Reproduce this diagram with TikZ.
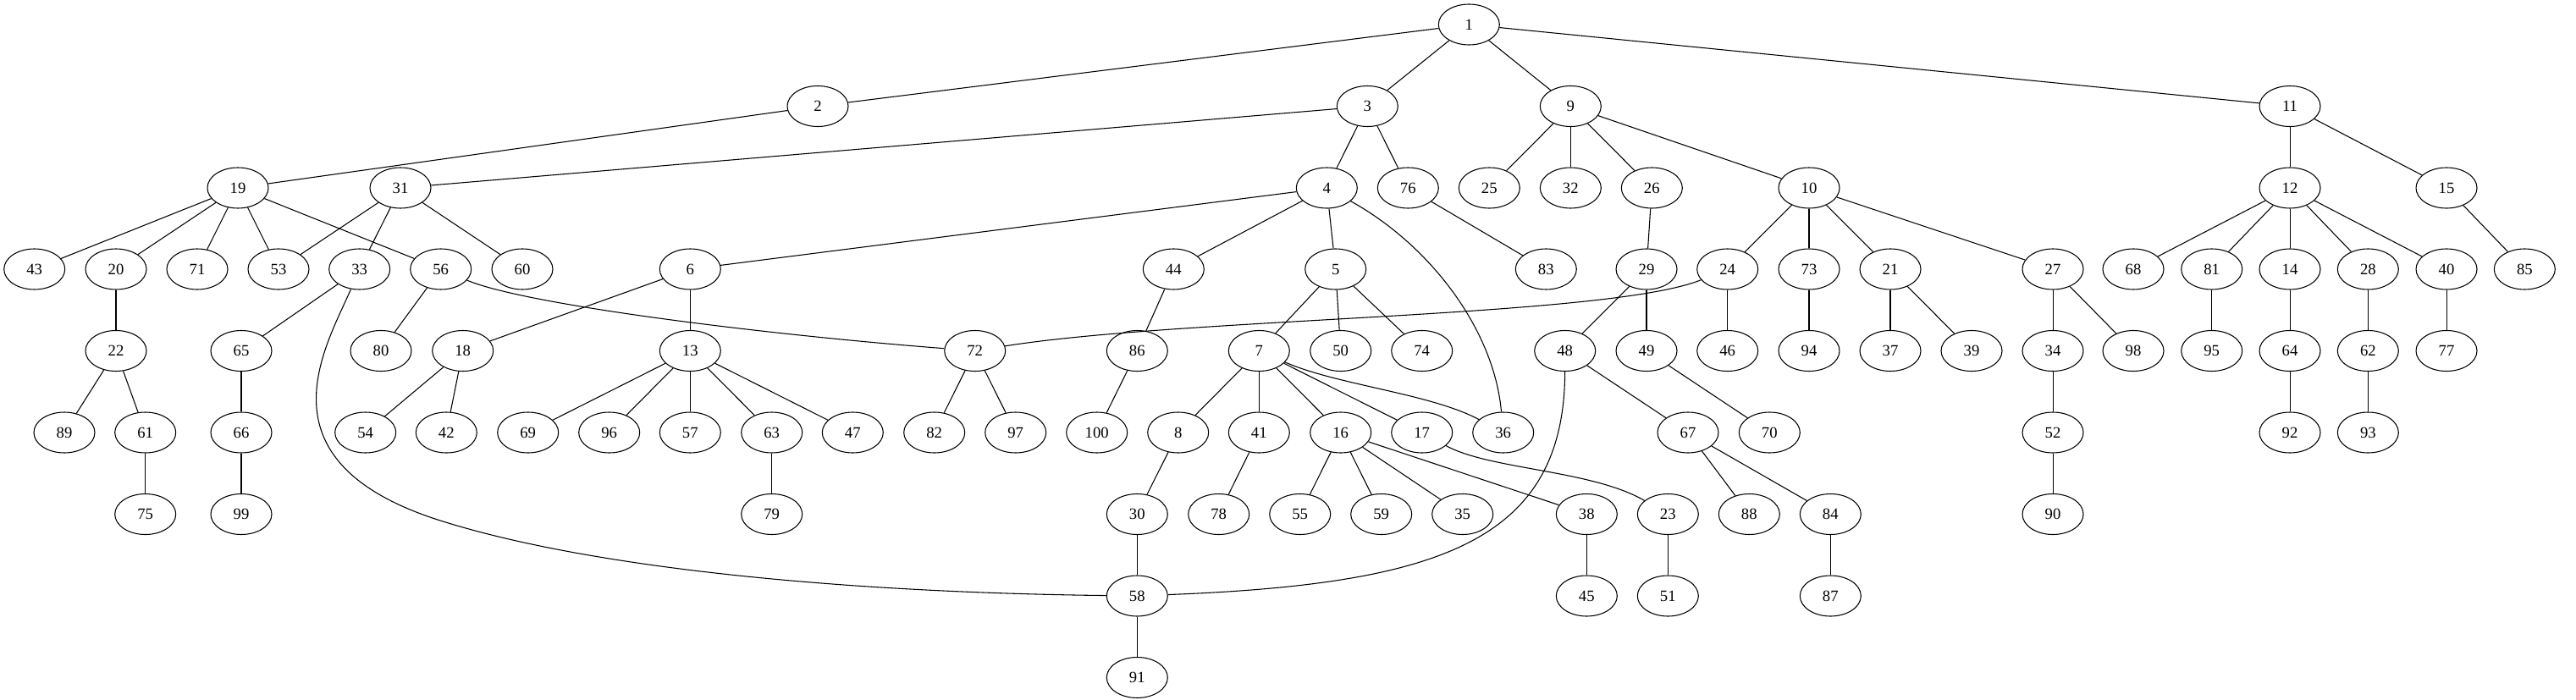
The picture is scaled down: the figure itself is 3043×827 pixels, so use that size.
\documentclass[tikz,border=0pt]{standalone}
\usepackage{fontspec}
\setmainfont{Liberation Serif}
\usetikzlibrary{shapes.geometric}
\tikzset{
   every path/.style={>=stealth},
   vtx/.style={ellipse,draw,line width=0.8pt,minimum width=54pt,minimum height=36pt,inner sep=0pt,font=\fontsize{14}{16}\selectfont},
   link/.style={line width=0.8pt},
}

\begin{document}
\begin{tikzpicture}[x=0.75pt,y=0.75pt]
        \useasboundingbox (0,0) rectangle (3043,-827);

        \node[vtx] (v1) at (1735.3, -29) {1};

        \node[vtx] (v2)  at ( 966.0, -125.5) {2};
        \node[vtx] (v3)  at (1615.3, -125.5) {3};
        \node[vtx] (v9)  at (1855.3, -125.5) {9};
        \node[vtx] (v11) at (2705.0, -125.5) {11};

        \node[vtx] (v19) at ( 281.0, -222) {19};
        \node[vtx] (v31) at ( 473.0, -222) {31};
        \node[vtx] (v4)  at (1567.3, -222) {4};
        \node[vtx] (v76) at (1663.3, -222) {76};
        \node[vtx] (v25) at (1759.3, -222) {25};
        \node[vtx] (v32) at (1855.3, -222) {32};
        \node[vtx] (v26) at (1951.3, -222) {26};
        \node[vtx] (v10) at (2137.0, -222) {10};
        \node[vtx] (v12) at (2705.0, -222) {12};
        \node[vtx] (v15) at (2890.0, -222) {15};

        \node[vtx] (v43) at (  40.7, -318) {43};
        \node[vtx] (v20) at ( 137.0, -318) {20};
        \node[vtx] (v71) at ( 233.0, -318) {71};
        \node[vtx] (v53) at ( 329.0, -318) {53};
        \node[vtx] (v33) at ( 424.7, -318) {33};
        \node[vtx] (v56) at ( 520.7, -318) {56};
        \node[vtx] (v60) at ( 617.0, -318) {60};
        \node[vtx] (v6)  at ( 815.3, -318) {6};
        \node[vtx] (v44) at (1386.3, -318) {44};
        \node[vtx] (v5)  at (1577.7, -318) {5};
        \node[vtx] (v83) at (1826.3, -318) {83};
        \node[vtx] (v29) at (1945.0, -318) {29};
        \node[vtx] (v24) at (2040.7, -318) {24};
        \node[vtx] (v73) at (2137.0, -318) {73};
        \node[vtx] (v21) at (2233.0, -318) {21};
        \node[vtx] (v27) at (2425.0, -318) {27};
        \node[vtx] (v68) at (2520.0, -318) {68};
        \node[vtx] (v81) at (2612.7, -318) {81};
        \node[vtx] (v14) at (2705.0, -318) {14};
        \node[vtx] (v28) at (2797.3, -318) {28};
        \node[vtx] (v40) at (2890.0, -318) {40};
        \node[vtx] (v85) at (2982.3, -318) {85};

        \node[vtx] (v22) at ( 137.0, -414.5) {22};
        \node[vtx] (v65) at ( 285.0, -414.5) {65};
        \node[vtx] (v80) at ( 450.0, -414.5) {80};
        \node[vtx] (v18) at ( 546.7, -414.5) {18};
        \node[vtx] (v13) at ( 815.3, -414.5) {13};
        \node[vtx] (v72) at (1151.7, -414.5) {72};
        \node[vtx] (v86) at (1343.3, -414.5) {86};
        \node[vtx] (v7)  at (1487.3, -414.5) {7};
        \node[vtx] (v50) at (1583.7, -414.5) {50};
        \node[vtx] (v74) at (1679.7, -414.5) {74};
        \node[vtx] (v48) at (1848.7, -414.5) {48};
        \node[vtx] (v49) at (1945.0, -414.5) {49};
        \node[vtx] (v46) at (2040.7, -414.5) {46};
        \node[vtx] (v94) at (2137.0, -414.5) {94};
        \node[vtx] (v37) at (2233.0, -414.5) {37};
        \node[vtx] (v39) at (2329.0, -414.5) {39};
        \node[vtx] (v34) at (2425.0, -414.5) {34};
        \node[vtx] (v98) at (2520.0, -414.5) {98};
        \node[vtx] (v95) at (2612.7, -414.5) {95};
        \node[vtx] (v64) at (2705.0, -414.5) {64};
        \node[vtx] (v62) at (2797.3, -414.5) {62};
        \node[vtx] (v77) at (2890.0, -414.5) {77};

        \node[vtx] (v89)  at (  76.0, -511) {89};
        \node[vtx] (v61)  at ( 171.7, -511) {61};
        \node[vtx] (v66)  at ( 285.0, -511) {66};
        \node[vtx] (v54)  at ( 431.7, -511) {54};
        \node[vtx] (v42)  at ( 527.3, -511) {42};
        \node[vtx] (v69)  at ( 623.7, -511) {69};
        \node[vtx] (v96)  at ( 719.7, -511) {96};
        \node[vtx] (v57)  at ( 815.3, -511) {57};
        \node[vtx] (v63)  at ( 911.7, -511) {63};
        \node[vtx] (v47)  at (1007.3, -511) {47};
        \node[vtx] (v82)  at (1103.7, -511) {82};
        \node[vtx] (v97)  at (1199.7, -511) {97};
        \node[vtx] (v100) at (1295.7, -511) {100};
        \node[vtx] (v8)   at (1391.7, -511) {8};
        \node[vtx] (v41)  at (1487.3, -511) {41};
        \node[vtx] (v16)  at (1583.7, -511) {16};
        \node[vtx] (v17)  at (1679.7, -511) {17};
        \node[vtx] (v36)  at (1775.7, -511) {36};
        \node[vtx] (v67)  at (1994.0, -511) {67};
        \node[vtx] (v70)  at (2090.3, -511) {70};
        \node[vtx] (v52)  at (2425.0, -511) {52};
        \node[vtx] (v92)  at (2705.0, -511) {92};
        \node[vtx] (v93)  at (2797.3, -511) {93};

        \node[vtx] (v75) at ( 171.7, -607.5) {75};
        \node[vtx] (v99) at ( 285.0, -607.5) {99};
        \node[vtx] (v79) at ( 911.7, -607.5) {79};
        \node[vtx] (v30) at (1343.3, -607.5) {30};
        \node[vtx] (v78) at (1439.7, -607.5) {78};
        \node[vtx] (v55) at (1535.7, -607.5) {55};
        \node[vtx] (v59) at (1631.7, -607.5) {59};
        \node[vtx] (v35) at (1727.7, -607.5) {35};
        \node[vtx] (v38) at (1874.3, -607.5) {38};
        \node[vtx] (v23) at (1970.3, -607.5) {23};
        \node[vtx] (v88) at (2066.3, -607.5) {88};
        \node[vtx] (v84) at (2162.3, -607.5) {84};
        \node[vtx] (v90) at (2425.0, -607.5) {90};

        \node[vtx] (v58) at (1343.3, -704) {58};
        \node[vtx] (v45) at (1874.3, -704) {45};
        \node[vtx] (v51) at (1970.3, -704) {51};
        \node[vtx] (v87) at (2162.3, -704) {87};

        \node[vtx] (v91) at (1343.3, -800.5) {91};

        % straight edges, grouped by upper end
        \draw[link] (v1) edge (v2) edge (v3) edge (v9) edge (v11);
        \draw[link] (v2) edge (v19);
        \draw[link] (v3) edge (v31) edge (v4) edge (v76);
        \draw[link] (v9) edge (v25) edge (v32) edge (v26) edge (v10);
        \draw[link] (v11) edge (v12) edge (v15);
        \draw[link] (v19) edge (v43) edge (v20) edge (v71) edge (v53) edge (v56);
        \draw[link] (v31) edge (v53) edge (v33) edge (v60);
        \draw[link] (v4) edge (v6) edge (v44) edge (v5);
        \draw[link] (v76) edge (v83);
        \draw[link] (v26) edge (v29);
        \draw[link] (v10) edge (v24) edge (v73) edge (v21) edge (v27);
        \draw[link] (v12) edge (v68) edge (v81) edge (v14) edge (v28) edge (v40);
        \draw[link] (v15) edge (v85);
        \draw[link] (v20) edge (v22);
        \draw[link] (v33) edge (v65);
        \draw[link] (v56) edge (v80);
        \draw[link] (v6) edge (v18) edge (v13);
        \draw[link] (v44) edge (v86);
        \draw[link] (v5) edge (v7) edge (v50) edge (v74);
        \draw[link] (v29) edge (v48) edge (v49);
        \draw[link] (v24) edge (v46);
        \draw[link] (v73) edge (v94);
        \draw[link] (v21) edge (v37) edge (v39);
        \draw[link] (v27) edge (v34) edge (v98);
        \draw[link] (v81) edge (v95);
        \draw[link] (v14) edge (v64);
        \draw[link] (v28) edge (v62);
        \draw[link] (v40) edge (v77);
        \draw[link] (v22) edge (v89) edge (v61);
        \draw[link] (v65) edge (v66);
        \draw[link] (v18) edge (v54) edge (v42);
        \draw[link] (v13) edge (v69) edge (v96) edge (v57) edge (v63) edge (v47);
        \draw[link] (v72) edge (v82) edge (v97);
        \draw[link] (v86) edge (v100);
        \draw[link] (v7) edge (v8) edge (v41) edge (v16) edge (v17);
        \draw[link] (v48) edge (v67);
        \draw[link] (v49) edge (v70);
        \draw[link] (v34) edge (v52);
        \draw[link] (v64) edge (v92);
        \draw[link] (v62) edge (v93);
        \draw[link] (v61) edge (v75);
        \draw[link] (v66) edge (v99);
        \draw[link] (v63) edge (v79);
        \draw[link] (v8) edge (v30);
        \draw[link] (v41) edge (v78);
        \draw[link] (v16) edge (v55) edge (v59) edge (v35) edge (v38);
        \draw[link] (v67) edge (v88) edge (v84);
        \draw[link] (v52) edge (v90);
        \draw[link] (v30) edge (v58);
        \draw[link] (v38) edge (v45);
        \draw[link] (v23) edge (v51);
        \draw[link] (v84) edge (v87);
        \draw[link] (v58) edge (v91);

        % curved edges
        \draw[link] (v33) .. controls (385,-410) and (300,-545) .. (520,-615)
                          .. controls (700,-672) and (1000,-700) .. (v58);
        \draw[link] (v48) .. controls (1848,-640) and (1700,-690) .. (v58);
        \draw[link] (v24) .. controls (1900,-375) and (1400,-375) .. (v72);
        \draw[link] (v56) .. controls (620,-360) and (900,-395) .. (v72);
        \draw[link] (v4)  .. controls (1690,-290) and (1765,-390) .. (v36);
        \draw[link] (v7)  .. controls (1580,-455) and (1690,-465) .. (v36);
        \draw[link] (v17) .. controls (1760,-555) and (1880,-555) .. (v23);
      \end{tikzpicture}
\end{document}
